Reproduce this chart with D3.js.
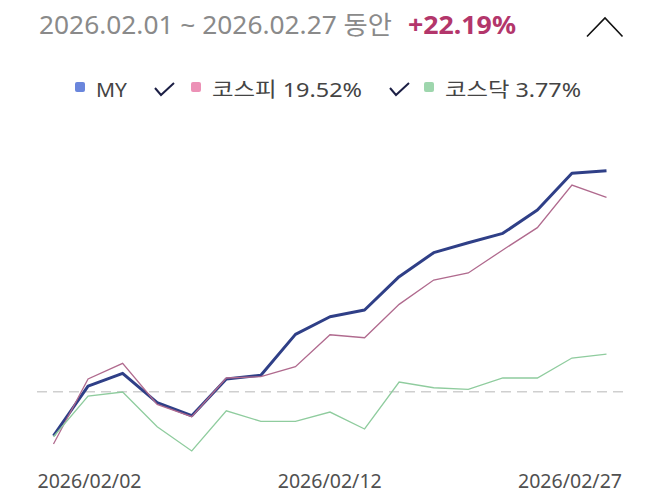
<!DOCTYPE html>
<html>
<head>
<meta charset="utf-8">
<script src="https://cdn.jsdelivr.net/npm/d3@7"></script>
<style>
  body { margin: 0; background: #fff; }
  svg text { font-family: "Noto Sans", "Noto Sans CJK KR", sans-serif; }
</style>
</head>
<body>
<div id="chart"></div>
<script>
// Trading days in the period
var dates = ["02/02", "02/03", "02/04", "02/05", "02/06", "02/09", "02/10", "02/11", "02/12",
  "02/13", "02/19", "02/20", "02/23", "02/24", "02/25", "02/26", "02/27"];

// Cumulative return (%) per series
var myValues = [-4.42, 0.57, 1.85, -1.10, -2.41, 1.28, 1.65, 5.76, 7.53,
  8.20, 11.55, 13.96, 14.96, 15.90, 18.24, 21.93, 22.19];
var kospiValues = [-5.25, 1.28, 2.85, -1.27, -2.51, 1.38, 1.51, 2.51, 5.72,
  5.42, 8.77, 11.21, 11.92, 14.23, 16.47, 20.75, 19.52];
var kosdaqValues = [-4.52, -0.43, -0.03, -3.51, -5.95, -1.91, -2.97, -2.97, -2.04,
  -3.74, 0.97, 0.40, 0.24, 1.38, 1.38, 3.38, 3.78];

var xTickLabels = ["2026/02/02", "2026/02/12", "2026/02/27"];
var legendNames = ["MY", "코스피 19.52%", "코스닥 3.77%"];
var periodText = "2026.02.01 ~ 2026.02.27 동안";
var totalText = "+22.19%";

var width = 660, height = 502;

var svg = d3.select("#chart").append("svg")
  .attr("width", width)
  .attr("height", height);

// Scales
var x = d3.scalePoint().domain(dates).range([53.5, 606.5]);
var y = d3.scaleLinear().domain([-6, 23]).range([451.5, 162.6]);
var tickX = d3.scalePoint().domain(xTickLabels).range([89.5, 570]);

// Header (the phone font is wider than Noto, so stretch to its width)
svg.append("text")
  .attr("x", 39)
  .attr("y", 34)
  .attr("font-size", 25)
  .attr("fill", "#8a8a8a")
  .attr("textLength", 353)
  .attr("lengthAdjust", "spacingAndGlyphs")
  .text(periodText);

svg.append("text")
  .attr("x", 408)
  .attr("y", 34)
  .attr("font-size", 25)
  .attr("font-weight", "bold")
  .attr("fill", "#b3366b")
  .attr("textLength", 108)
  .attr("lengthAdjust", "spacingAndGlyphs")
  .text(totalText);

// collapse chevron
svg.append("path")
  .attr("d", "M587,36.5L605,18L622.5,36.5")
  .attr("fill", "none")
  .attr("stroke", "#111")
  .attr("stroke-width", 1.6);

// Legend
var legendColors = ["#6a86dc", "#ec91b6", "#9ed6ad"];
var legendX = [75, 191, 424];
var legendLen = [31, 150, 136];
var legend = svg.append("g");

legendNames.forEach(function(name, i) {
  legend.append("rect")
    .attr("x", legendX[i])
    .attr("y", 82)
    .attr("width", 10)
    .attr("height", 10)
    .attr("rx", 2)
    .attr("fill", legendColors[i]);
  legend.append("text")
    .attr("x", legendX[i] + 21)
    .attr("y", 96.5)
    .attr("font-size", 20)
    .attr("fill", "#444")
    .attr("textLength", legendLen[i])
    .attr("lengthAdjust", "spacingAndGlyphs")
    .text(name);
  if (i > 0) {
    var cx = legendX[i] - (i == 1 ? 36 : 34);
    legend.append("path")
      .attr("d", "M" + cx + ",88L" + (cx + 6) + ",95L" + (cx + 19) + ",83")
      .attr("fill", "none")
      .attr("stroke", "#1c1f45")
      .attr("stroke-width", 2);
  }
});

// Zero line
svg.append("line")
  .attr("x1", 37)
  .attr("x2", 623)
  .attr("y1", y(0))
  .attr("y2", y(0))
  .attr("stroke", "#cfcfcf")
  .attr("stroke-width", 1.5)
  .attr("stroke-dasharray", "10,6");

var line = d3.line()
  .x(function(d, i) { return x(dates[i]); })
  .y(function(d) { return y(d); });

// Series lines
svg.append("path")
  .datum(myValues)
  .attr("fill", "none")
  .attr("stroke", "#2f3f87")
  .attr("stroke-width", 3)
  .attr("stroke-linejoin", "round")
  .attr("d", line);

svg.append("path")
  .datum(kospiValues)
  .attr("fill", "none")
  .attr("stroke", "#b06a8e")
  .attr("stroke-width", 1.3)
  .attr("d", line);

svg.append("path")
  .datum(kosdaqValues)
  .attr("fill", "none")
  .attr("stroke", "#8fcc9e")
  .attr("stroke-width", 1.3)
  .attr("d", line);

// X labels
svg.selectAll(".xlabel")
  .data(xTickLabels)
  .enter().append("text")
  .attr("class", "xlabel")
  .attr("x", function(d) { return tickX(d); })
  .attr("y", 488)
  .attr("text-anchor", "middle")
  .attr("font-size", 19)
  .attr("fill", "#505050")
  .attr("textLength", 104)
  .attr("lengthAdjust", "spacingAndGlyphs")
  .text(function(d) { return d; });
</script>
</body>
</html>
